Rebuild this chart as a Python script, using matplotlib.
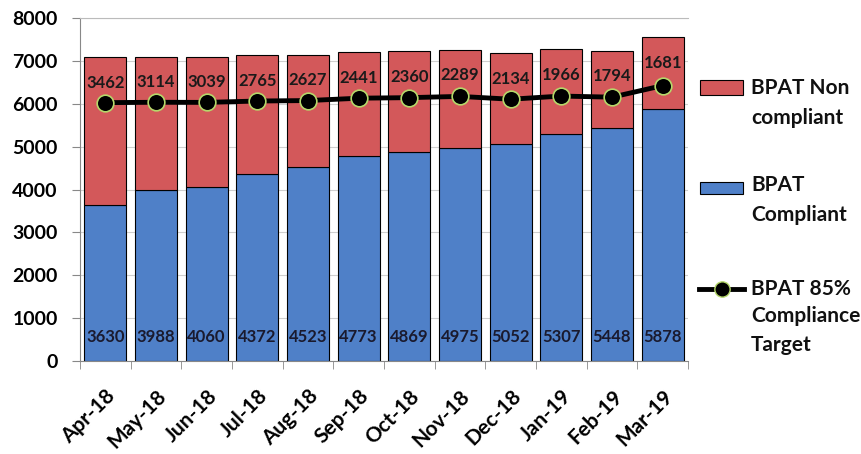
import matplotlib
matplotlib.use("Agg")
import matplotlib.pyplot as plt
from matplotlib.patches import Rectangle
from matplotlib.lines import Line2D
import numpy as np

months = ["Apr-18", "May-18", "Jun-18", "Jul-18", "Aug-18", "Sep-18",
          "Oct-18", "Nov-18", "Dec-18", "Jan-19", "Feb-19", "Mar-19"]
compliant = [3630, 3988, 4060, 4372, 4523, 4773, 4869, 4975, 5052, 5307, 5448, 5878]
non_compliant = [3462, 3114, 3039, 2765, 2627, 2441, 2360, 2289, 2134, 1966, 1794, 1681]
target = [6028, 6037, 6034, 6066, 6077, 6132, 6145, 6174, 6108, 6182, 6156, 6425]
y_ticks = [0, 1000, 2000, 3000, 4000, 5000, 6000, 7000, 8000]
legend_labels = [["BPAT Non", "compliant"], ["BPAT", "Compliant"],
                 ["BPAT 85%", "Compliance", "Target"]]

plt.rcParams['font.family'] = ['Lato', 'DejaVu Sans']

W, H = 861, 454
fig = plt.figure(figsize=(W / 100, H / 100), dpi=100)
ax = fig.add_axes([0.093, 0.205, 0.706, 0.755])

x = np.arange(len(months))
red = "#D3585A"
blue = "#4F80C8"
green_edge = "#B5D86A"
ax.bar(x, compliant, width=0.83, color=blue, edgecolor="black", linewidth=0.8, zorder=2)
ax.bar(x, non_compliant, bottom=compliant, width=0.83, color=red,
       edgecolor="black", linewidth=0.8, zorder=2)
ax.plot(x, target, color="black", linewidth=3.5, marker="o", markersize=12,
        markerfacecolor="black", markeredgecolor=green_edge, markeredgewidth=1.2, zorder=4)

for xi, c, n in zip(x, compliant, non_compliant):
    ax.text(xi, 560, str(c), ha="center", va="center", fontsize=12,
            fontweight="bold", color="#1a1a2e", zorder=5)
    ax.text(xi, c + n - 600, str(n), ha="center", va="center", fontsize=12,
            fontweight="bold", color="#1a1a1a", zorder=5)

ax.set_xlim(-0.5, len(months) - 0.5)
ax.set_ylim(0, 8000)
ax.set_yticks(y_ticks)
ax.set_yticklabels([str(v) for v in y_ticks], fontsize=14, fontweight="bold")
ax.yaxis.grid(True, color="#cfcfcf", linewidth=0.8, zorder=0)
ax.set_axisbelow(True)

ax.set_xticks(x)
ax.set_xticklabels(months, rotation=45, ha="right", rotation_mode="anchor",
                   fontsize=15, fontweight="bold")
ax.tick_params(axis="x", length=0, pad=18)
ax.set_xticks(np.arange(-0.5, len(months), 1), minor=True)
ax.tick_params(axis="x", which="minor", length=6, color="#888888")
ax.tick_params(axis="y", length=6, color="#888888", pad=10)

ax.spines["right"].set_visible(False)
ax.spines["top"].set_color("#bbbbbb")
ax.spines["left"].set_color("#888888")
ax.spines["bottom"].set_color("#888888")


def fx(px):
    return px / W


def fy(py):
    return 1 - py / H


# legend drawn by hand in figure pixel coordinates
fig.add_artist(Rectangle((fx(700), fy(95)), fx(43), 15 / H, transform=fig.transFigure,
                         facecolor=red, edgecolor="black", linewidth=0.8))
fig.add_artist(Rectangle((fx(700), fy(194)), fx(43), 12 / H, transform=fig.transFigure,
                         facecolor=blue, edgecolor="black", linewidth=0.8))
fig.add_artist(Line2D([fx(699), fx(744)], [fy(289), fy(289)], transform=fig.transFigure,
                      color="black", linewidth=3.5))
fig.add_artist(Line2D([fx(721.5)], [fy(289)], transform=fig.transFigure,
                      color="black", marker="o", markersize=11, markerfacecolor="black",
                      markeredgecolor=green_edge, markeredgewidth=1.0, linestyle="none"))

line_rows = [[88, 118], [185, 215], [289, 316, 345]]
for rows, texts in zip(line_rows, legend_labels):
    for py, t in zip(rows, texts):
        fig.text(fx(751), fy(py), t, ha="left", va="center", fontsize=15,
                 fontweight="bold", color="#111111")

fig.savefig("out.png", dpi=100)
